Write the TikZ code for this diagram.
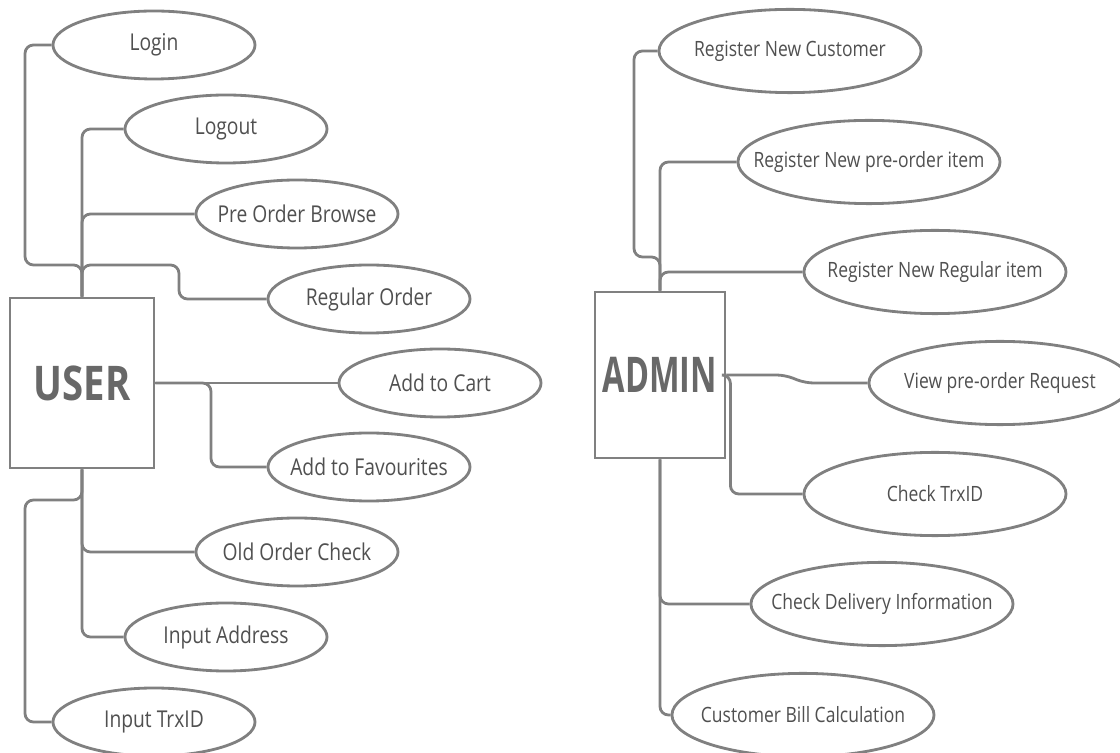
\documentclass[tikz,border=0pt]{standalone}
\usepackage{fontspec}
\setmainfont[FakeStretch=0.83]{Open Sans}
\newfontfamily\userfont[FakeStretch=0.8]{Open Sans}
\newfontfamily\adminfont[FakeStretch=0.66]{Open Sans}
\usetikzlibrary{shapes.geometric}
\definecolor{ucLine}{RGB}{128,128,128}
\definecolor{ucText}{RGB}{80,80,80}
\definecolor{ucTitle}{RGB}{104,104,104}
\tikzset{
    base/.style={font=\fontsize{16.5}{19}\selectfont, text=ucText},
    usecase/.style={base, ellipse, draw=ucLine, line width=2pt, fill=white,
                    inner sep=0pt, minimum width=5.05cm, minimum height=1.7cm,
                    execute at begin node={\hbox to 0pt\bgroup\hss},
                    execute at end node={\hss\egroup}},
    widecase/.style={usecase, font=\fontsize{15}{18}\selectfont,
                     minimum width=6.55cm, minimum height=2.08cm},
    actor/.style={rectangle, draw=ucLine, line width=2pt, fill=white, text=ucTitle,
                  inner sep=0pt},
    link/.style={draw=ucLine, line width=2pt, rounded corners=6pt}
}

\begin{document}
\begin{tikzpicture}[x=0.025cm, y=-0.025cm]
  \useasboundingbox (0,0) rectangle (1120,753);

  % USER and its use cases
  \node[actor, minimum width=3.6cm, minimum height=4.25cm,
        font=\userfont\fontsize{34}{34}\selectfont\bfseries] (user) at (82,383) {USER};
  \node[usecase] (login) at (154,45) {Login};
  \node[usecase] (logout) at (226,129) {Logout};
  \node[usecase] (browse) at (297,214) {Pre Order Browse};
  \node[usecase] (regular) at (369,299) {Regular Order};
  \node[usecase] (cart) at (440,383) {Add to Cart};
  \node[usecase] (fav) at (369,467) {Add to Favourites};
  \node[usecase] (old) at (297,552) {Old Order Check};
  \node[usecase] (addr) at (226,637) {Input Address};
  \node[usecase] (trx) at (154,722) {Input TrxID};

  \draw[link] (user.north) |- (25,265) |- (login.west);
  \draw[link] (user.north) |- (logout.west);
  \draw[link] (user.north) |- (browse.west);
  \draw[link] (user.north) |- (179,265) |- (regular.west);
  \draw[link] (user.east) -- (cart.west);
  \draw[link] (user.east) -- (211,383) |- (fav.west);
  \draw[link] (user.south) |- (old.west);
  \draw[link] (user.south) |- (addr.west);
  \draw[link] (user.south) |- (25,500) |- (trx.west);

  % ADMIN and its use cases
  \node[actor, minimum width=3.25cm, minimum height=4.15cm,
        font=\adminfont\fontsize{35}{35}\selectfont\bfseries] (admin) at (660,375) {ADMIN};
  \node[widecase] (newcust) at (790,51) {Register New Customer};
  \node[widecase] (newpre) at (869,162) {Register New pre-order item};
  \node[widecase] (newreg) at (935,272) {Register New Regular item};
  \node[widecase] (viewpre) at (1000,383) {View pre-order Request};
  \node[widecase] (chktrx) at (935,494) {Check TrxID};
  \node[widecase] (chkdel) at (882,604) {Check Delivery Information};
  \node[widecase] (bill) at (803,715) {Customer Bill Calculation};

  \draw[link] (admin.north) |- (634,257) |- (newcust.west);
  \draw[link] (admin.north) |- (newpre.west);
  \draw[link] (admin.north) |- (newreg.west);
  \draw[link] (admin.east) -- (785,375) -- (805,383) -- (viewpre.west);
  \draw[link] (admin.east) -- ++(4,0) |- (chktrx.west);
  \draw[link] (admin.south) |- (chkdel.west);
  \draw[link] (admin.south) |- (bill.west);
\end{tikzpicture}
\end{document}
